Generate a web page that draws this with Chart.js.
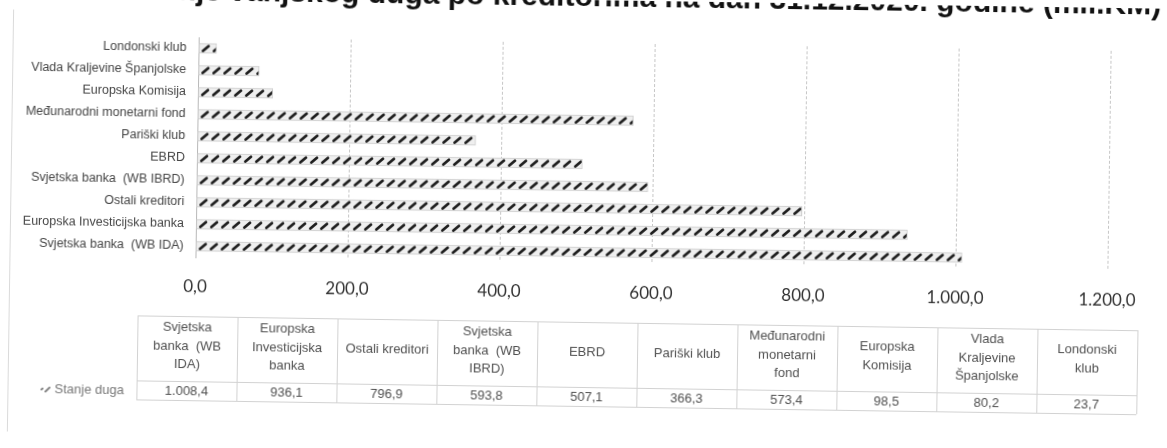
<!DOCTYPE html>
<html><head><meta charset="utf-8">
<script src="https://cdn.jsdelivr.net/npm/chart.js@4.4.1/dist/chart.umd.min.js"></script>
<style>
html,body{margin:0;padding:0;background:#fff;overflow:hidden}
#wrap{width:1167px;height:448px;transform:rotate(0.85deg);transform-origin:50% 50%;background:#fff}
canvas{display:block}
</style></head><body>
<div id="wrap"><canvas id="c" width="1167" height="448"></canvas></div>
<script>
const titleText = 'Stanje vanjskog duga po kreditorima na dan 31.12.2020. godine (mil.KM)';
const categories = ['Svjetska banka  (WB IDA)','Europska Investicijska banka','Ostali kreditori','Svjetska banka  (WB IBRD)','EBRD','Pariški klub','Međunarodni monetarni fond','Europska Komisija','Vlada Kraljevine Španjolske','Londonski klub'];
const tableHeaders = [['Svjetska','banka  (WB','IDA)'],['Europska','Investicijska','banka'],['Ostali kreditori'],['Svjetska','banka  (WB','IBRD)'],['EBRD'],['Pariški klub'],['Međunarodni','monetarni','fond'],['Europska','Komisija'],['Vlada','Kraljevine','Španjolske'],['Londonski','klub']];
const seriesName = 'Stanje duga';
const debtValues = [1008.4, 936.1, 796.9, 593.8, 507.1, 366.3, 573.4, 98.5, 80.2, 23.7];
const xTicks = [0, 200, 400, 600, 800, 1000, 1200];

function fmt(v){
  const s = Math.abs(v).toFixed(1);
  let [i, d] = s.split('.');
  i = i.replace(/\B(?=(\d{3})+(?!\d))/g, '.');
  return (v < 0 ? '-' : '') + i + ',' + d;
}

const canvas = document.getElementById('c');
const ctx = canvas.getContext('2d');

// plot area: top 43, bottom 263 -> 10 bands of 22px, bar centres at 54 + 22k (54 mod 22 = 10)
function makePattern(){
  const p = document.createElement('canvas');
  p.width = 11; p.height = 22;
  const g = p.getContext('2d');
  g.fillStyle = '#efefef';
  g.fillRect(0, 0, 11, 22);
  g.strokeStyle = '#1e1e1e';
  g.lineWidth = 2.8;
  g.lineCap = 'round';
  g.beginPath();
  g.moveTo(2.5, 12.5); g.lineTo(8, 7.8);
  g.stroke();
  return ctx.createPattern(p, 'repeat');
}
const hatch = makePattern();

const titlePlugin = {
  id: 'cutTitle',
  afterDraw(chart){
    const c = chart.ctx;
    c.save();
    c.font = 'bold 30px "Liberation Sans", Arial, sans-serif';
    c.fillStyle = '#111';
    c.textAlign = 'right';
    c.textBaseline = 'alphabetic';
    c.fillText(titleText, 1158, 6);
    c.strokeStyle = '#dadada';
    c.lineWidth = 1;
    c.beginPath(); c.moveTo(10.5, 18); c.lineTo(10.5, 440); c.stroke();
    c.restore();
  }
};

const tablePlugin = {
  id: 'dataTable',
  afterDraw(chart){
    const c = chart.ctx;
    const left = 139, colW = 100, top = 322, hdrH = 65, rowH = 19;
    const n = categories.length;
    const right = left + colW * n;
    c.save();
    c.strokeStyle = '#d2d2d2';
    c.lineWidth = 1;
    c.beginPath();
    c.moveTo(left, top + 0.5); c.lineTo(right, top + 0.5);
    c.moveTo(left, top + hdrH + 0.5); c.lineTo(right, top + hdrH + 0.5);
    c.moveTo(left, top + hdrH + rowH + 0.5); c.lineTo(right, top + hdrH + rowH + 0.5);
    for (let i = 0; i <= n; i++){
      const x = left + colW * i + 0.5;
      c.moveTo(x, top); c.lineTo(x, top + hdrH + rowH);
    }
    c.stroke();

    c.font = '13px "Liberation Sans", Arial, sans-serif';
    c.fillStyle = '#505050';
    c.textAlign = 'center';
    c.textBaseline = 'middle';
    const lh = 18.5;
    tableHeaders.forEach((lines, i) => {
      const cx = left + colW * (i + 0.5);
      const y0 = top + 30 - (lines.length - 1) * lh / 2;
      lines.forEach((t, j) => c.fillText(t, cx, y0 + j * lh));
    });
    debtValues.forEach((v, i) => {
      c.fillText(fmt(v), left + colW * (i + 0.5), top + hdrH + rowH / 2 + 1);
    });

    // legend key + series name
    const ky = top + hdrH + rowH / 2 + 1;
    c.strokeStyle = '#888';
    c.lineWidth = 2;
    c.lineCap = 'round';
    c.beginPath();
    c.moveTo(44, ky); c.lineTo(45, ky - 1);
    c.moveTo(48, ky + 2); c.lineTo(52, ky - 2);
    c.stroke();
    c.fillStyle = '#777';
    c.textAlign = 'left';
    c.fillText(seriesName, 57, ky);
    c.restore();
  }
};

new Chart(ctx, {
  type: 'bar',
  data: {
    labels: categories,
    datasets: [{
      label: seriesName,
      data: debtValues,
      backgroundColor: hatch,
      borderColor: '#cdcdcd',
      borderWidth: 1,
      borderSkipped: false,
      barThickness: 10
    }]
  },
  options: {
    indexAxis: 'y',
    responsive: false,
    animation: false,
    devicePixelRatio: 1,
    layout: { padding: { top: 43, right: 59, left: 0, bottom: 0 } },
    plugins: {
      legend: { display: false },
      tooltip: { enabled: false },
      title: { display: false }
    },
    scales: {
      x: {
        min: 0, max: 1200,
        afterBuildTicks: s => { s.ticks = xTicks.map(v => ({ value: v })); },
        grid: { color: '#c6c6c6', drawTicks: false, lineWidth: 1 },
        border: { display: false, dash: [3, 2] },
        ticks: {
          padding: 19,
          color: '#333',
          font: { family: 'Lato, "Open Sans", sans-serif', size: 17 },
          maxRotation: 0,
          autoSkip: false,
          callback: v => fmt(v)
        },
        afterFit: s => { s.height = 448 - 263; }
      },
      y: {
        reverse: true,
        grid: { display: false, drawTicks: false },
        border: { display: true, color: '#b8b8b8' },
        ticks: {
          padding: 12,
          color: '#454545',
          autoSkip: false,
          font: { family: '"Liberation Sans", Arial, sans-serif', size: 12.5 }
        },
        afterFit: s => { s.width = 196; }
      }
    }
  },
  plugins: [tablePlugin, titlePlugin]
});
</script>
</body></html>
